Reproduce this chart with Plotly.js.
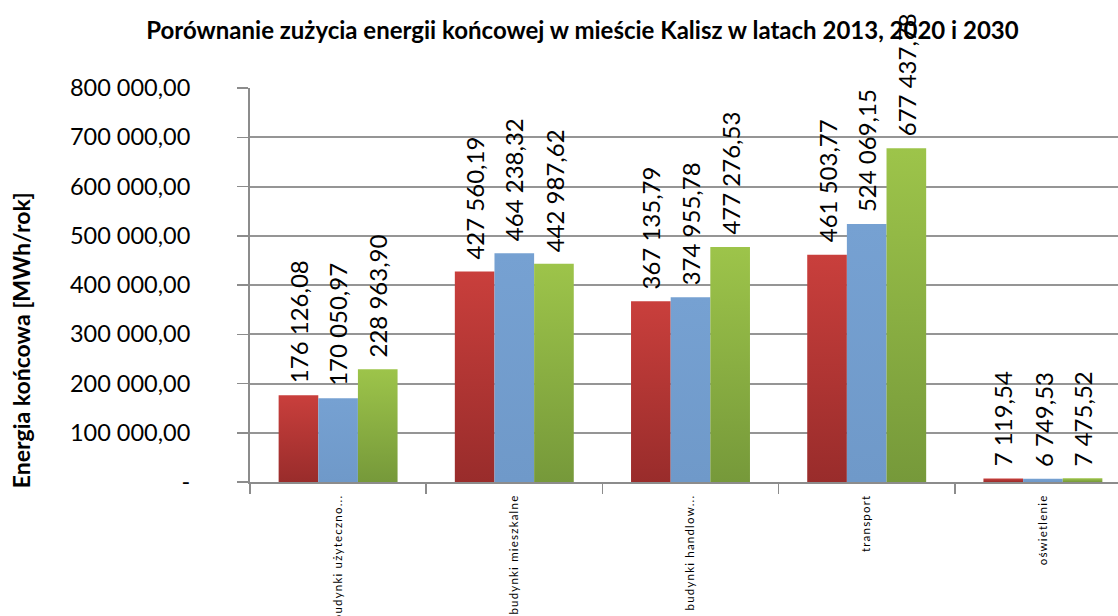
<!DOCTYPE html>
<html>
<head>
<meta charset="utf-8">
<script src="https://cdn.plot.ly/plotly-3.0.1.min.js"></script>
<style>
  html, body { margin: 0; padding: 0; overflow: hidden; background: #fff; }
  #chart { width: 1165px; height: 616px; }
  .xtick text { letter-spacing: 1.2px; }
</style>
</head>
<body>
<div id="chart"></div>
<script>
const categories = ['budynki użyteczno...', 'budynki mieszkalne', 'budynki handlow...', 'transport', 'oświetlenie'];
const seriesNames = ['2013', '2020', '2030'];
const values2013 = [176126.08, 427560.19, 367135.79, 461503.77, 7119.54];
const values2020 = [170050.97, 464238.32, 374955.78, 524069.15, 6749.53];
const values2030 = [228963.90, 442987.62, 477276.53, 677437.78, 7475.52];
const yTickVals = [0, 100000, 200000, 300000, 400000, 500000, 600000, 700000, 800000];
const yTickText = ['-', '100 000,00', '200 000,00', '300 000,00', '400 000,00', '500 000,00', '600 000,00', '700 000,00', '800 000,00'];

const seriesValues = [values2013, values2020, values2030];
const colors = ['#B53634', '#739FCF', '#8BB042'];
const gradients = [['#C93F3C', '#992C2B'], ['#76A1D2', '#6F99C9'], ['#9DC44A', '#76993A']];

function fmt(v) {
  const parts = v.toFixed(2).split('.');
  const intPart = parts[0].replace(/\B(?=(\d{3})+(?!\d))/g, ' ');
  return intPart + ',' + parts[1];
}

const W = 1165, H = 616;
const margin = {l: 250, r: 33.5, t: 88, b: 134};
const bargap = 0.325;
const plotW = W - margin.l - margin.r;
const catW = plotW / categories.length;
const barW = catW * (1 - bargap) / seriesValues.length;

const traces = seriesValues.map((vals, i) => ({
  type: 'bar',
  name: seriesNames[i],
  x: categories,
  y: vals,
  marker: {color: colors[i], line: {width: 0}},
  hoverinfo: 'skip'
}));

const annotations = [];
seriesValues.forEach((vals, i) => {
  vals.forEach((v, j) => {
    annotations.push({
      x: categories[j], y: v, xref: 'x', yref: 'y',
      xshift: (i - 1) * barW, yshift: 10,
      xanchor: 'center', yanchor: 'bottom',
      textangle: -90, showarrow: false,
      text: fmt(v),
      font: {family: 'Lato, sans-serif', size: 24, color: '#000'}
    });
  });
});
annotations.push({
  xref: 'paper', yref: 'paper',
  x: (21 - margin.l) / plotW, y: 1 - (340 - margin.t) / (H - margin.t - margin.b),
  xanchor: 'center', yanchor: 'middle',
  textangle: -90, showarrow: false,
  text: 'Energia końcowa [MWh/rok]',
  font: {family: 'Lato, sans-serif', size: 23, color: '#000', weight: 'bold'}
});

const layout = {
  width: W, height: H,
  margin: margin,
  paper_bgcolor: '#fff', plot_bgcolor: '#fff',
  showlegend: false,
  barmode: 'group',
  bargap: bargap, bargroupgap: 0,
  title: {
    text: '<b>Porównanie zużycia energii końcowej w mieście Kalisz w latach 2013, 2020 i 2030</b>',
    x: 0.5, xref: 'container', xanchor: 'center',
    y: 1 - 31 / H, yref: 'container', yanchor: 'middle',
    font: {family: 'Lato, sans-serif', size: 24, color: '#000'}
  },
  font: {family: 'Lato, sans-serif', color: '#000'},
  xaxis: {
    type: 'category',
    showline: true, linecolor: '#8c8c8c', linewidth: 2,
    ticks: 'outside', tickson: 'boundaries', ticklen: 10, tickwidth: 1.5, tickcolor: '#8c8c8c',
    ticklabelstandoff: 6,
    tickangle: -90, tickfont: {family: 'Lato, sans-serif', size: 11.5, color: '#000'},
    showgrid: false, zeroline: false, fixedrange: true
  },
  yaxis: {
    range: [0, 800000],
    tickvals: yTickVals, ticktext: yTickText,
    showline: true, linecolor: '#8c8c8c', linewidth: 2,
    ticks: 'outside', ticklen: 11, tickwidth: 1.5, tickcolor: '#8c8c8c',
    ticklabelstandoff: 42,
    tickfont: {family: 'Lato, sans-serif', size: 23.5, color: '#000'},
    showgrid: true, gridcolor: '#959595', gridwidth: 2,
    zeroline: false, fixedrange: true
  },
  annotations: annotations
};

Plotly.newPlot('chart', traces, layout, {displayModeBar: false, staticPlot: true}).then(gd => {
  const svg = gd.querySelector('.main-svg');
  let defs = svg.querySelector('defs');
  const ns = 'http://www.w3.org/2000/svg';
  gradients.forEach((g, i) => {
    const lg = document.createElementNS(ns, 'linearGradient');
    lg.setAttribute('id', 'barGrad' + i);
    lg.setAttribute('x1', '0'); lg.setAttribute('y1', '0');
    lg.setAttribute('x2', '0'); lg.setAttribute('y2', '1');
    [[0, g[0]], [1, g[1]]].forEach(([o, c]) => {
      const st = document.createElementNS(ns, 'stop');
      st.setAttribute('offset', o);
      st.setAttribute('stop-color', c);
      lg.appendChild(st);
    });
    defs.appendChild(lg);
  });
  gd.querySelectorAll('.barlayer .trace').forEach((tr, i) => {
    tr.querySelectorAll('path').forEach(p => { p.style.fill = 'url(#barGrad' + i + ')'; });
  });
});
</script>
</body>
</html>
